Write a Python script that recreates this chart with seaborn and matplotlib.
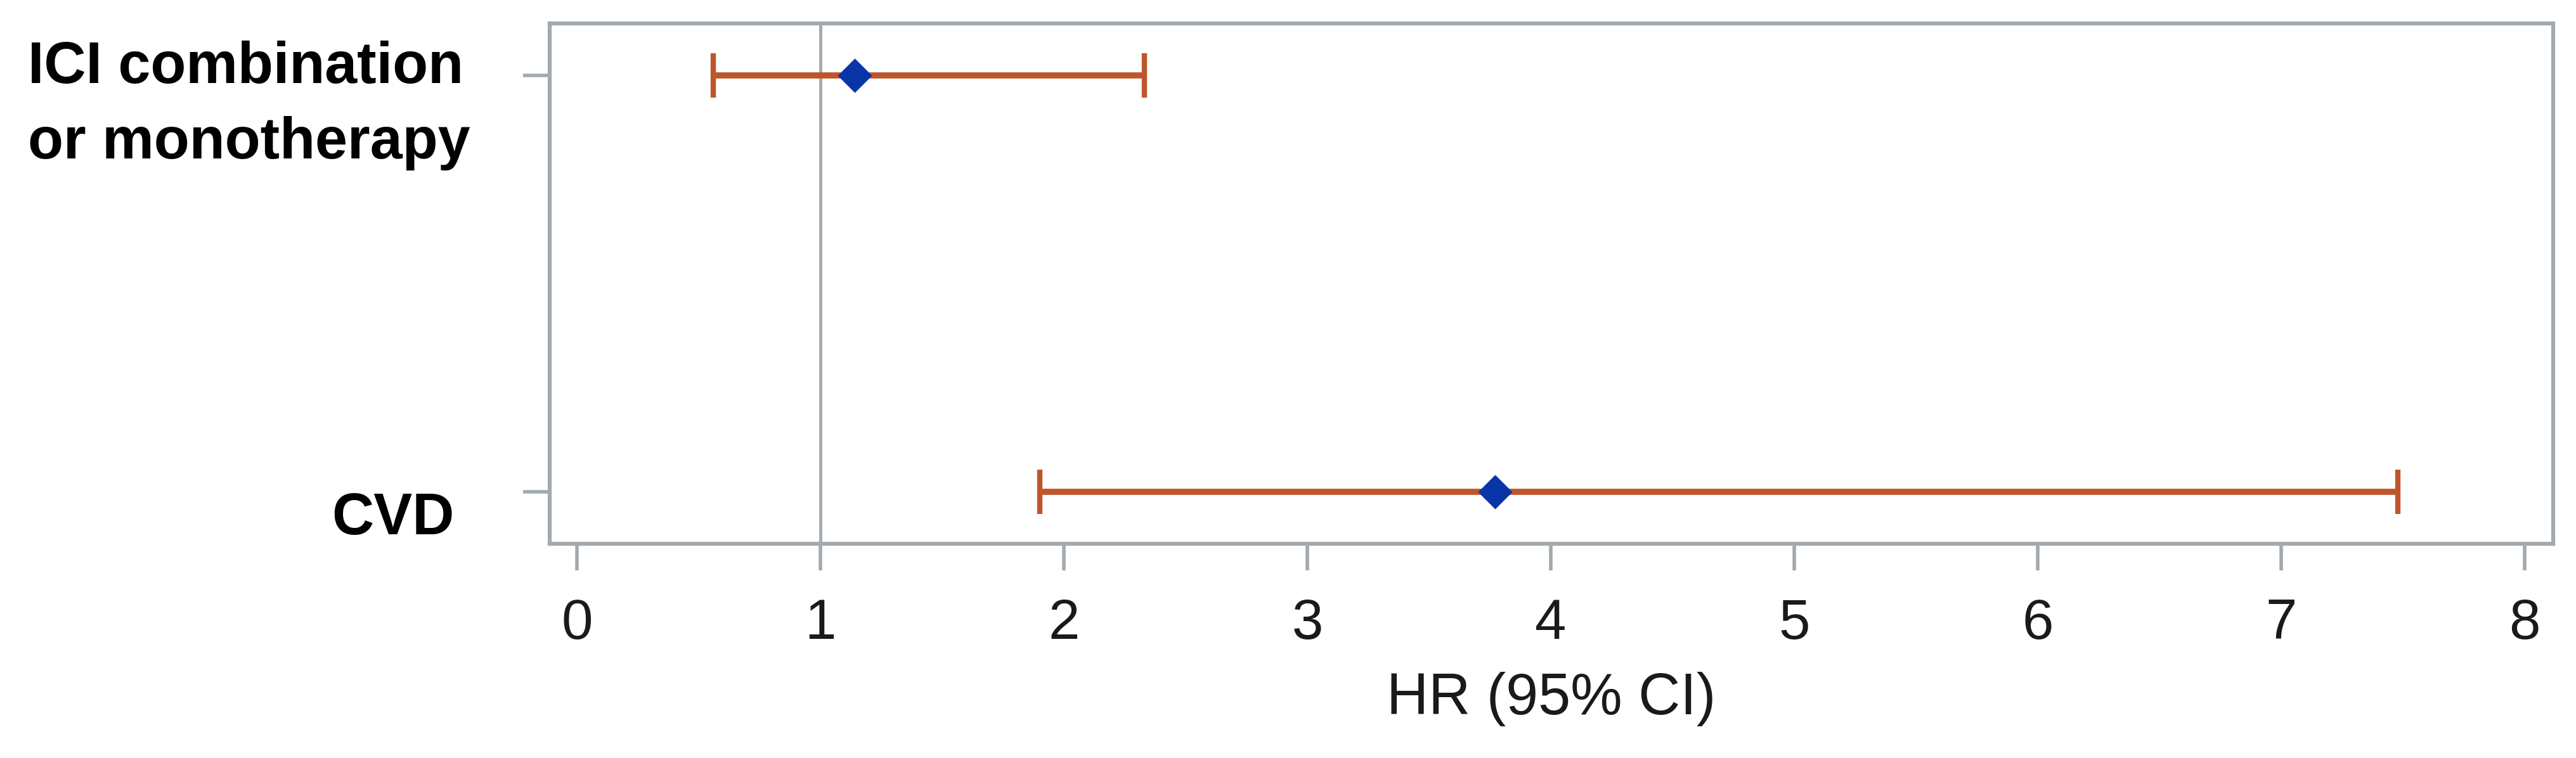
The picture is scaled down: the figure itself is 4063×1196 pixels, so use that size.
import pandas as pd
import matplotlib
matplotlib.use("Agg")
import matplotlib.pyplot as plt
import matplotlib.transforms as mtransforms
import seaborn as sns

# forest plot values
labels = ["ICI combination\nor monotherapy", "CVD"]
hr = [1.14, 3.77]
ci_low = [0.56, 1.90]
ci_high = [2.33, 7.48]
x_ticks = [0, 1, 2, 3, 4, 5, 6, 7, 8]

df = pd.DataFrame({"label": labels, "hr": hr, "lo": ci_low, "hi": ci_high})

sns.set_theme(style="white")
plt.rcParams["font.family"] = ["Liberation Sans", "DejaVu Sans"]

gray = "#A2AAAF"
err_col = "#BF562B"
pt_col = "#0A35A8"

fig = plt.figure(figsize=(40.63, 11.96), dpi=100)
ax = fig.add_axes([0.2134, 0.2826, 0.7777, 0.6865])

sns.scatterplot(data=df, x="hr", y="label", marker="D", s=760, color=pt_col,
                edgecolor=pt_col, linewidth=0, zorder=4, ax=ax, legend=False)
ax.errorbar(df["hr"], df["label"], xerr=[df["hr"] - df["lo"], df["hi"] - df["hr"]],
            fmt="none", ecolor=err_col, elinewidth=7, capsize=25, capthick=6, zorder=3)
ax.axvline(1, color=gray, lw=3.5, zorder=2)

ax.set_xlim(-0.112, 8.117)
ax.set_ylim(1.125, -0.125)
ax.set_xticks(x_ticks)
ax.set_xticklabels([str(t) for t in x_ticks], fontsize=64, color="#1a1a1a")
ax.set_yticks(range(len(labels)))
ax.set_yticklabels(labels, fontsize=66, fontweight="bold", va="top",
                   multialignment="left", linespacing=1.5, color="black")
ax.tick_params(axis="both", direction="out", length=30, width=4, color=gray,
               bottom=True, left=True)
ax.tick_params(axis="x", pad=31)
ax.tick_params(axis="y", pad=60)

ax.set_xlabel("HR (95% CI)", fontsize=66, labelpad=24, color="#1a1a1a")
ax.set_ylabel("")

for s in ax.spines.values():
    s.set_visible(True)
    s.set_color(gray)
    s.set_linewidth(4.5)

# nudge the row labels like the original layout
shifts = [(0, 40), (-18, 0)]
for t, (dx, dy) in zip(ax.get_yticklabels(), shifts):
    off = mtransforms.ScaledTranslation(dx / 72, dy / 72, fig.dpi_scale_trans)
    t.set_transform(t.get_transform() + off)

fig.savefig("out.png", dpi=100)
